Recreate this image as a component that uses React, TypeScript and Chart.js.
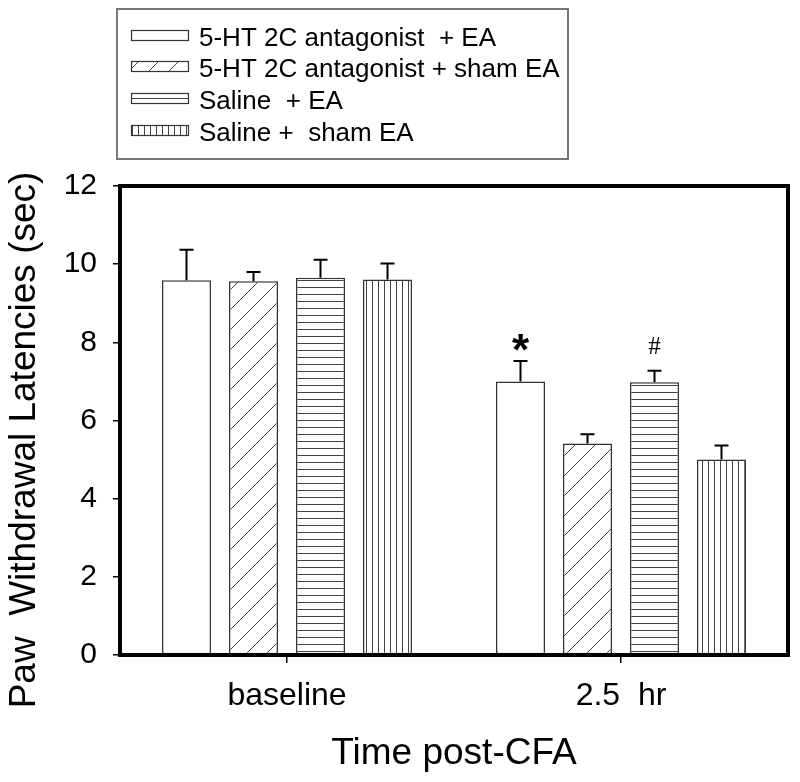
import React, { useEffect, useRef } from 'react';
import { Chart, registerables } from 'chart.js';

Chart.register(...registerables);

// ---------- data ----------
const categories = ['baseline', '2.5  hr'];
const seriesNames = [
  '5-HT 2C antagonist  + EA',
  '5-HT 2C antagonist + sham EA',
  'Saline  + EA',
  'Saline +  sham EA',
];
const antagonistEA = [9.59, 7.0];
const antagonistSham = [9.56, 5.41];
const salineEA = [9.65, 6.98];
const salineSham = [9.61, 5.0];

const antagonistEAErr = [0.78, 0.52];
const antagonistShamErr = [0.24, 0.24];
const salineEAErr = [0.46, 0.29];
const salineShamErr = [0.41, 0.36];

const yMin = 0;
const yMax = 12;
const yStep = 2;

const xTitle = 'Time post-CFA';
const yTitle = 'Paw  Withdrawal Latencies (sec)';

// significance marks: series index, category index, symbol
const markSeries = [0, 2];
const markIndex = [1, 1];
const markText = ['*', '#'];

const FONT = '"Liberation Sans", Arial, Helvetica, sans-serif';
const SERIF = '"Liberation Serif", "Times New Roman", serif';

type Kind = 'plain' | 'diag' | 'horiz' | 'vert';
const kinds: Kind[] = ['plain', 'diag', 'horiz', 'vert'];

function makeFill(kind: Kind): string | CanvasPattern {
  if (kind === 'plain') return '#ffffff';
  const c = document.createElement('canvas');
  const ctx = c.getContext('2d')!;
  if (kind === 'diag') {
    c.width = 20; c.height = 20;
    ctx.fillStyle = '#fff'; ctx.fillRect(0, 0, 20, 20);
    ctx.strokeStyle = '#444'; ctx.lineWidth = 1;
    ctx.beginPath();
    ctx.moveTo(-2, 22); ctx.lineTo(22, -2);
    ctx.moveTo(-12, 12); ctx.lineTo(12, -12);
    ctx.moveTo(8, 32); ctx.lineTo(32, 8);
    ctx.stroke();
  } else if (kind === 'horiz') {
    c.width = 8; c.height = 7;
    ctx.fillStyle = '#fff'; ctx.fillRect(0, 0, 8, 7);
    ctx.fillStyle = '#444'; ctx.fillRect(0, 0, 8, 1);
  } else {
    c.width = 6; c.height = 8;
    ctx.fillStyle = '#fff'; ctx.fillRect(0, 0, 6, 8);
    ctx.fillStyle = '#444'; ctx.fillRect(0, 0, 1, 8);
  }
  const p = ctx.createPattern(c, 'repeat');
  return p || '#ffffff';
}

export default function App() {
  const ref = useRef<HTMLCanvasElement | null>(null);

  useEffect(() => {
    document.body.style.margin = '0';
    const canvas = ref.current;
    if (!canvas) return;

    const means = [antagonistEA, antagonistSham, salineEA, salineSham];
    const errs = [antagonistEAErr, antagonistShamErr, salineEAErr, salineShamErr];
    const fills = kinds.map(makeFill);

    const decor = {
      id: 'decor',
      afterDatasetsDraw(chart: any) {
        const ctx = chart.ctx as CanvasRenderingContext2D;
        const ys = chart.scales.y;
        ctx.save();
        // error bars
        ctx.strokeStyle = '#000';
        ctx.lineWidth = 2;
        means.forEach((arr, i) => {
          const meta = chart.getDatasetMeta(i);
          arr.forEach((v, j) => {
            const el = meta.data[j];
            const top = ys.getPixelForValue(v + errs[i][j]);
            ctx.beginPath();
            ctx.moveTo(el.x, el.y);
            ctx.lineTo(el.x, top);
            ctx.moveTo(el.x - 7, top);
            ctx.lineTo(el.x + 7, top);
            ctx.stroke();
          });
        });
        // significance marks
        markText.forEach((t, k) => {
          const i = markSeries[k];
          const j = markIndex[k];
          const el = chart.getDatasetMeta(i).data[j];
          const top = ys.getPixelForValue(means[i][j] + errs[i][j]);
          ctx.fillStyle = '#000';
          ctx.textAlign = 'center';
          ctx.textBaseline = 'alphabetic';
          if (t === '*') {
            ctx.font = `bold 44px ${FONT}`;
            ctx.fillText(t, el.x, top + 4);
          } else {
            ctx.font = `25px ${SERIF}`;
            ctx.fillText(t, el.x, top - 17);
          }
        });
        // frame
        const a = chart.chartArea;
        ctx.strokeStyle = '#000';
        ctx.lineWidth = 4;
        ctx.strokeRect(a.left, a.top, a.right - a.left, a.bottom - a.top);
        ctx.restore();
      },
      afterDraw(chart: any) {
        const ctx = chart.ctx as CanvasRenderingContext2D;
        ctx.save();
        // y title
        ctx.fillStyle = '#000';
        ctx.font = `37px ${FONT}`;
        ctx.textAlign = 'center';
        ctx.textBaseline = 'alphabetic';
        ctx.translate(35, 440);
        ctx.rotate(-Math.PI / 2);
        ctx.fillText(yTitle, 0, 0);
        ctx.restore();

        // legend
        ctx.save();
        ctx.strokeStyle = '#777';
        ctx.lineWidth = 2;
        ctx.strokeRect(117, 9, 451, 150);
        ctx.font = `26px ${FONT}`;
        ctx.textAlign = 'left';
        ctx.textBaseline = 'alphabetic';
        seriesNames.forEach((name, i) => {
          const base = 45.5 + 31.7 * i;
          const sy = Math.round(base - 16) + 0.5;
          ctx.fillStyle = fills[i] as any;
          ctx.fillRect(131.5, sy, 57, 10);
          ctx.strokeStyle = '#333';
          ctx.lineWidth = 1.2;
          ctx.strokeRect(131.5, sy, 57, 10);
          ctx.fillStyle = '#000';
          ctx.fillText(name, 199, base);
        });
        ctx.restore();
      },
    };

    const chart = new Chart(canvas, {
      type: 'bar',
      data: {
        labels: categories,
        datasets: means.map((arr, i) => ({
          label: seriesNames[i],
          data: arr,
          backgroundColor: fills[i] as any,
          borderColor: '#333',
          borderWidth: 1.5,
          borderSkipped: false,
          categoryPercentage: 0.8024,
          barPercentage: 0.731,
        })),
      },
      options: {
        responsive: false,
        animation: false,
        devicePixelRatio: 1,
        layout: { padding: { top: 186, right: 12, bottom: 0, left: 0 } },
        plugins: {
          legend: { display: false },
          tooltip: { enabled: false },
        },
        scales: {
          x: {
            type: 'category',
            grid: {
              display: true,
              offset: false,
              drawOnChartArea: false,
              drawTicks: true,
              tickLength: 8,
              color: '#000',
              lineWidth: 1.5,
            },
            border: { display: false },
            ticks: { color: '#000', font: { family: FONT, size: 32 }, padding: 14, maxRotation: 0 },
            title: {
              display: true,
              text: xTitle,
              color: '#000',
              font: { family: FONT, size: 37 },
              padding: { top: 0, bottom: 6 },
            },
            afterFit(s: any) { s.height = 127; },
          },
          y: {
            min: yMin,
            max: yMax,
            grid: {
              drawOnChartArea: false,
              drawTicks: true,
              tickLength: 7,
              color: '#000',
              lineWidth: 1.5,
            },
            border: { display: false },
            ticks: { stepSize: yStep, color: '#000', font: { family: FONT, size: 30 }, padding: 16 },
            afterFit(s: any) { s.width = 120; },
          },
        },
      },
      plugins: [decor],
    });

    return () => chart.destroy();
  }, []);

  return <canvas ref={ref} width={800} height={782} style={{ display: 'block' }} />;
}
